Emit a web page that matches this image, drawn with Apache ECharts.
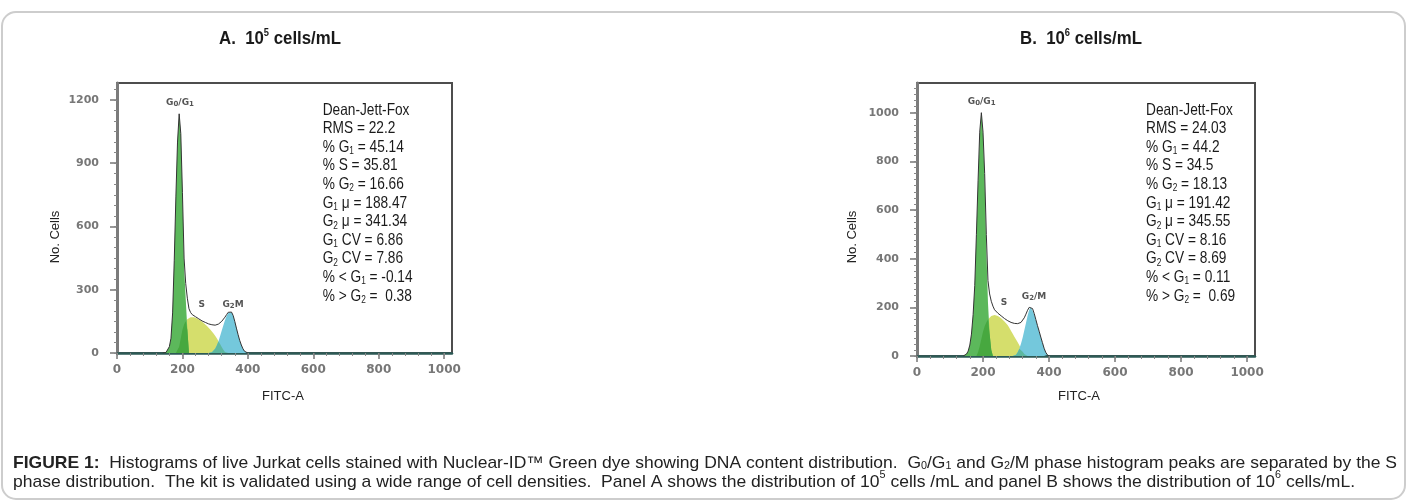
<!DOCTYPE html>
<html><head><meta charset="utf-8">
<script src="https://cdn.jsdelivr.net/npm/echarts@6/dist/echarts.min.js"></script>
<style>html,body{margin:0;padding:0;background:#fff}#c{width:1410px;height:504px}</style>
</head><body><div id="c"></div>
<script>
// ---------- DATA ----------
const chan = [140,145,150,155,160,165,170,175,180,185,190,195,200,205,210,215,220,225,230,235,240,245,250,255,260,265,270,275,280,285,290,295,300,305,310,315,320,325,330,335,340,345,350,355,360,365,370,375,380,385,390,395,400];

// Panel A (10^5 cells/mL)
const totalA = [0,0,3,12,30,70,190,440,740,1000,1134,1040,760,450,330,260,210,192,182,176,172,168,162,157,152,148,145,141,138,136,134,133,132,133,137,143,150,158,170,182,193,198,194,178,150,118,88,60,38,20,8,2,0];
const g1A    = [0,0,3,12,30,70,190,440,740,1000,1134,1040,760,410,260,110,0,0,0,0,0,0,0,0,0,0,0,0,0,0,0,0,0,0,0,0,0,0,0,0,0,0,0,0,0,0,0,0,0,0,0,0,0];
const sA     = [0,0,0,0,0,0,0,0,0,0,30,70,110,135,150,160,168,170,170,169,167,164,159,154,148,142,136,128,120,111,102,92,82,70,57,43,29,15,5,0,0,0,0,0,0,0,0,0,0,0,0,0,0];
const g2A    = [0,0,0,0,0,0,0,0,0,0,0,0,0,0,0,0,0,0,0,0,0,0,0,0,0,0,0,0,0,0,4,10,20,35,55,80,105,130,155,175,190,197,193,178,150,118,88,60,38,20,8,2,0];

// Panel B (10^6 cells/mL)
const totalB = [0,2,8,20,45,90,170,290,500,720,920,1000,920,750,500,310,255,225,205,190,182,176,170,165,159,154,149,145,141,138,136,134,133,133,134,138,146,157,172,188,200,203,195,175,150,125,102,78,55,32,15,5,0];
const g1B    = [0,2,8,20,45,90,170,290,500,705,900,1000,910,720,440,220,90,25,0,0,0,0,0,0,0,0,0,0,0,0,0,0,0,0,0,0,0,0,0,0,0,0,0,0,0,0,0,0,0,0,0,0,0];
const sB     = [0,0,0,0,0,0,0,0,0,15,40,70,100,122,138,150,158,164,167,168,167,164,160,155,149,142,135,126,115,103,91,79,68,57,44,30,17,8,2,0,0,0,0,0,0,0,0,0,0,0,0,0,0];
const g2B    = [0,0,0,0,0,0,0,0,0,0,0,0,0,0,0,0,0,0,0,0,0,0,0,0,0,0,0,0,0,0,0,0,5,15,30,50,75,105,135,165,190,200,192,172,148,124,100,77,54,32,15,5,0];

// Axis ticks
const xTicks  = [0,200,400,600,800,1000];
const yTicksA = [0,300,600,900,1200];
const yTicksB = [0,200,400,600,800,1000];

// Texts
const titleA = 'A.  10{sup|5} cells/mL';
const titleB = 'B.  10{sup|6} cells/mL';
const statsA = ['Dean-Jett-Fox','RMS = 22.2','% G{s|1} = 45.14','% S = 35.81','% G{s|2} = 16.66','G{s|1} \u03bc = 188.47','G{s|2} \u03bc = 341.34','G{s|1} CV = 6.86','G{s|2} CV = 7.86','% < G{s|1} = -0.14','% > G{s|2} =  0.38'];
const statsB = ['Dean-Jett-Fox','RMS = 24.03','% G{s|1} = 44.2','% S = 34.5','% G{s|2} = 18.13','G{s|1} \u03bc = 191.42','G{s|2} \u03bc = 345.55','G{s|1} CV = 8.16','G{s|2} CV = 8.69','% < G{s|1} = 0.11','% > G{s|2} =  0.69'];
const caption1 = '{b|FIGURE 1:}  Histograms of live Jurkat cells stained with Nuclear-ID\u2122 Green dye showing DNA content distribution.  G{s|0}/G{s|1} and G{s|2}/M phase histogram peaks are separated by the S';
const caption2 = 'phase distribution.  The kit is validated using a wide range of cell densities.  Panel A shows the distribution of 10{p|5} cells /mL and panel B shows the distribution of 10{p|6} cells/mL.';

// ---------- CHART ----------
const SANS = '"Liberation Sans",Arial,sans-serif';
const TICKF = '"DejaVu Sans",sans-serif';
const COL = {g1:'#5cb85b', s:'#d5de6c', g2:'#74c8dc', ov1:'#47a83f', ov2:'#5db8a0', line:'#333'};

const mk = arr => chan.map((c,i)=>[c,arr[i]]);
const minArr = (a,b) => a.map((v,i)=>Math.min(v,b[i]));
const range = (a,b,s) => {const r=[];for(let v=a;v<=b;v+=s)r.push(v);return r;};

// measure rich text width (for fitting condensed text lines)
const mctx = document.createElement('canvas').getContext('2d');
function measureRich(str, base, rich){
  let w = 0; const re = /\{(\w+)\|([^}]*)\}|([^{]+)/g; let m;
  while((m = re.exec(str))){
    const st = m[1] ? Object.assign({}, base, rich[m[1]]) : base;
    mctx.font = (st.fontWeight||'normal') + ' ' + st.fontSize + 'px ' + st.fontFamily;
    w += mctx.measureText(m[1] ? m[2] : m[3]).width;
  }
  return w;
}

function areaSeries(xi, arr, color, z){
  return {type:'line', xAxisIndex:xi, yAxisIndex:xi, data:mk(arr), showSymbol:false, symbol:'none',
    lineStyle:{width:0}, areaStyle:{color:color, opacity:1}, silent:true, z:z};
}
function panelSeries(xi, tot, g1, s, g2){
  return [
    areaSeries(xi, s, COL.s, 2),
    areaSeries(xi, g1, COL.g1, 3),
    areaSeries(xi, g2, COL.g2, 3),
    areaSeries(xi, minArr(g1,s), COL.ov1, 4),
    areaSeries(xi, minArr(s,g2), COL.ov2, 4),
    {type:'line', xAxisIndex:xi, yAxisIndex:xi, data:mk(tot), showSymbol:false, symbol:'none',
      lineStyle:{width:1, color:COL.line}, silent:true, z:5}
  ];
}
const tickFmt = v => String(v);
function xAxes(gi){
  return [
    {gridIndex:gi, type:'value', position:'bottom', min:0, max:1024, interval:200,
      axisLine:{show:true, onZero:false, lineStyle:{color:'#2c5a55', width:2.5}},
      axisTick:{show:true, customValues:xTicks, length:6, lineStyle:{color:'#777', width:1.5}},
      axisLabel:{customValues:xTicks, formatter:tickFmt, margin:11, color:'#777', fontFamily:TICKF, fontSize:12, fontWeight:'bold'},
      splitLine:{show:false}},
    {gridIndex:gi, type:'value', position:'bottom', min:0, max:1024, interval:40,
      axisLine:{show:false}, axisTick:{show:true, customValues:range(0,1000,40), length:3, lineStyle:{color:'#888'}},
      axisLabel:{show:false}, splitLine:{show:false}}
  ];
}
function yAxes(gi, max, ticks, minorStep){
  return [
    {gridIndex:gi, type:'value', position:'left', min:0, max:max, interval:ticks[1],
      axisLine:{show:true, onZero:false, lineStyle:{color:'#7b7b7b', width:3}},
      axisTick:{show:true, customValues:ticks, length:7, lineStyle:{color:'#777', width:1.5}},
      axisLabel:{customValues:ticks, formatter:tickFmt, margin:18, color:'#777', fontFamily:TICKF, fontSize:11, fontWeight:'bold'},
      splitLine:{show:false}},
    {gridIndex:gi, type:'value', position:'left', min:0, max:max, interval:minorStep,
      axisLine:{show:false}, axisTick:{show:true, customValues:range(0, max-1, minorStep), length:3, lineStyle:{color:'#888'}},
      axisLabel:{show:false}, splitLine:{show:false}}
  ];
}

function txt(x, y, text, o, extra){
  return Object.assign({type:'text', x:x, y:y, silent:true, z:100, style:Object.assign({text:text, fill:'#1a1a1a'}, o)}, extra||{});
}
const statRich = {s:{fontSize:10, fontFamily:SANS, verticalAlign:'bottom', lineHeight:12, fill:'#1a1a1a'}};
const lblRich = {s:{fontSize:7, fontFamily:TICKF, fontWeight:'bold', fill:'#555', verticalAlign:'bottom', lineHeight:9}};

// title
const titleBase = {fontFamily:SANS, fontSize:18, fontWeight:'bold'};
const titleRich = {sup:{fontSize:10, fontFamily:SANS, fontWeight:'bold', verticalAlign:'top', lineHeight:22, fill:'#1a1a1a'}};
const titleScale = 122 / measureRich(titleA, titleBase, titleRich);

// caption (condensed look: larger font, horizontally fitted)
const capBase = {fontFamily:SANS, fontSize:17};
const capRich1 = {b:{fontFamily:SANS, fontSize:17, fontWeight:'bold', fill:'#222'},
                  s:{fontFamily:SANS, fontSize:10.5, fill:'#222', verticalAlign:'bottom', lineHeight:13}};
const capRich2 = {p:{fontFamily:SANS, fontSize:10.5, fill:'#222', verticalAlign:'top', lineHeight:24}};
const cap1Scale = 1384 / measureRich(caption1, capBase, capRich1);
const cap2Scale = 1342 / measureRich(caption2, capBase, capRich2);

const graphics = [
  {type:'rect', silent:true, z:0, shape:{x:2, y:12, width:1403, height:487, r:14}, style:{fill:'none', stroke:'#cdcdcd', lineWidth:2}},
  txt(280, 39, titleA, Object.assign({align:'center', verticalAlign:'middle', rich:titleRich}, titleBase), {scaleX:titleScale}),
  txt(1081, 39, titleB, Object.assign({align:'center', verticalAlign:'middle', rich:titleRich}, titleBase), {scaleX:titleScale}),
  txt(322.7, 100.7, statsA.join('\n'), {fontFamily:SANS, fontSize:16.5, lineHeight:18.6, rich:statRich}, {scaleX:0.83}),
  txt(1146, 100.7, statsB.join('\n'), {fontFamily:SANS, fontSize:16.5, lineHeight:18.6, rich:statRich}, {scaleX:0.83}),
  // axis names
  txt(283, 396, 'FITC-A', {fontFamily:SANS, fontSize:13, fill:'#222', align:'center', verticalAlign:'middle'}),
  txt(1079, 396, 'FITC-A', {fontFamily:SANS, fontSize:13, fill:'#222', align:'center', verticalAlign:'middle'}),
  txt(55, 237, 'No. Cells', {fontFamily:SANS, fontSize:13, fill:'#222', align:'center', verticalAlign:'middle'}, {rotation:Math.PI/2}),
  txt(852, 237, 'No. Cells', {fontFamily:SANS, fontSize:13, fill:'#222', align:'center', verticalAlign:'middle'}, {rotation:Math.PI/2}),
  // peak labels
  txt(180, 103, 'G{s|0}/G{s|1}', {fontFamily:TICKF, fontSize:9, fontWeight:'bold', fill:'#555', align:'center', verticalAlign:'middle', rich:lblRich}),
  txt(201.7, 305, 'S', {fontFamily:TICKF, fontSize:9, fontWeight:'bold', fill:'#555', align:'center', verticalAlign:'middle'}),
  txt(233, 305, 'G{s|2}M', {fontFamily:TICKF, fontSize:9, fontWeight:'bold', fill:'#555', align:'center', verticalAlign:'middle', rich:lblRich}),
  txt(981.7, 102, 'G{s|0}/G{s|1}', {fontFamily:TICKF, fontSize:9, fontWeight:'bold', fill:'#555', align:'center', verticalAlign:'middle', rich:lblRich}),
  txt(1004, 303, 'S', {fontFamily:TICKF, fontSize:9, fontWeight:'bold', fill:'#555', align:'center', verticalAlign:'middle'}),
  txt(1034, 297, 'G{s|2}/M', {fontFamily:TICKF, fontSize:9, fontWeight:'bold', fill:'#555', align:'center', verticalAlign:'middle', rich:lblRich}),
  // caption
  txt(13, 463, caption1, Object.assign({fill:'#222', verticalAlign:'middle', rich:capRich1}, capBase), {scaleX:cap1Scale}),
  txt(13, 482, caption2, Object.assign({fill:'#222', verticalAlign:'middle', rich:capRich2}, capBase), {scaleX:cap2Scale})
];

const chart = echarts.init(document.getElementById('c'), null, {renderer:'canvas'});
chart.setOption({
  animation:false,
  backgroundColor:'#fff',
  grid:[
    {left:117, top:83, width:335, height:270, show:true, borderColor:'#4d4d4d', borderWidth:2, backgroundColor:'#fff'},
    {left:917, top:83, width:338, height:273, show:true, borderColor:'#4d4d4d', borderWidth:2, backgroundColor:'#fff'}
  ],
  xAxis: xAxes(0).concat(xAxes(1)),
  yAxis: yAxes(0, 1280, yTicksA, 50).concat(yAxes(1, 1122, yTicksB, 25)),
  series: panelSeries(0, totalA, g1A, sA, g2A).concat(panelSeries(2, totalB, g1B, sB, g2B)),
  graphic: graphics
});
</script></body></html>
